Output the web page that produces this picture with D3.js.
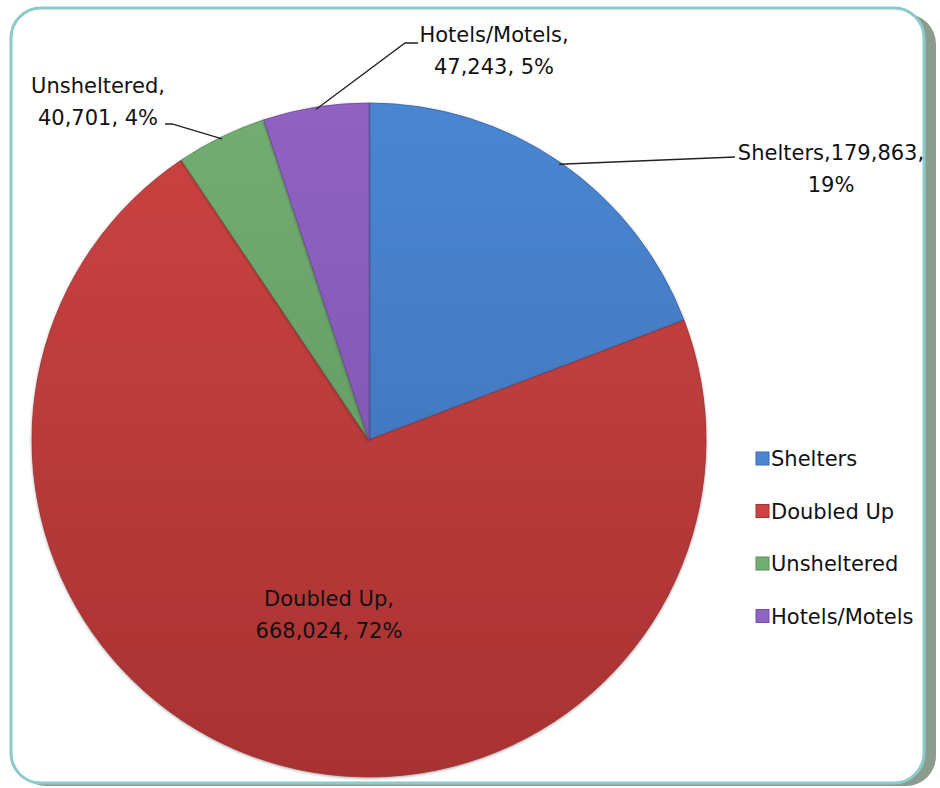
<!DOCTYPE html>
<html>
<head>
<meta charset="utf-8">
<script src="https://cdn.jsdelivr.net/npm/d3@7"></script>
<style>
  body { margin: 0; background: #fff; }
  text { font-family: "DejaVu Sans", sans-serif; fill: #111; }
</style>
</head>
<body>
<script>
const w = 940;
const h = 788;

// data
const categories = ["Shelters", "Doubled Up", "Unsheltered", "Hotels/Motels"];
const values = [179863, 668024, 40701, 47243];
const percents = ["19%", "72%", "4%", "5%"];
const colorsTop = ["#4a86d2", "#cc4343", "#72ad72", "#9062c2"];
const colorsBottom = ["#3b6cb0", "#a83232", "#5b925b", "#7650a8"];

const svg = d3
  .select("body")
  .append("svg")
  .attr("width", w)
  .attr("height", h);

const defs = svg.append("defs");

// frame shadow + frame
svg
  .append("rect")
  .attr("x", 16)
  .attr("y", 14)
  .attr("width", 920)
  .attr("height", 772)
  .attr("rx", 30)
  .attr("fill", "#8b9c8e");
svg
  .append("rect")
  .attr("x", 11)
  .attr("y", 8)
  .attr("width", 913)
  .attr("height", 775)
  .attr("rx", 30)
  .attr("fill", "#fff")
  .attr("stroke", "#8ccbcc")
  .attr("stroke-width", 3);

const cx = 369;
const cy = 440;
const r = 337;

categories.forEach((c, i) => {
  const g = defs
    .append("linearGradient")
    .attr("id", "grad" + i)
    .attr("gradientUnits", "userSpaceOnUse")
    .attr("x1", 0)
    .attr("y1", -r)
    .attr("x2", 0)
    .attr("y2", r);
  g.append("stop").attr("offset", "0%").attr("stop-color", colorsTop[i]);
  g.append("stop").attr("offset", "100%").attr("stop-color", colorsBottom[i]);
});

const bevel = defs.append("filter").attr("id", "bevel");
bevel
  .append("feDropShadow")
  .attr("dx", 0)
  .attr("dy", 1)
  .attr("stdDeviation", 1.5)
  .attr("flood-color", "#000")
  .attr("flood-opacity", 0.35);

const pie = d3.pie().sort(null).value((d) => d);
const arcs = pie(values);
const arc = d3.arc().innerRadius(0).outerRadius(r);

const chart = svg.append("g").attr("transform", `translate(${cx}, ${cy})`);

chart
  .selectAll("path")
  .data(arcs)
  .enter()
  .append("path")
  .attr("d", arc)
  .attr("fill", (d, i) => `url(#grad${i})`)
  .attr("stroke", (d, i) => d3.color(colorsBottom[i]).darker(0.3))
  .attr("stroke-width", 0.8)
  .attr("stroke-linejoin", "round")
  .attr("filter", "url(#bevel)");

// leader lines: start on the slice edge, end at its label
const edge = d3.arc().innerRadius(r - 2).outerRadius(r - 2);
const leaders = [
  { i: 0, pts: [[735, 157]] },
  { i: 3, pts: [[405, 43], [418, 43]] },
  { i: 2, pts: [[172, 124], [165, 124]] },
];
leaders.forEach((l) => {
  const a = arcs[l.i];
  const m = (a.startAngle + a.endAngle) / 2;
  const p = edge.centroid({ startAngle: m, endAngle: m });
  const start = [cx + p[0], cy + p[1]];
  svg
    .append("path")
    .attr("d", d3.line()([start, ...l.pts]))
    .attr("fill", "none")
    .attr("stroke", "#222")
    .attr("stroke-width", 1.3);
});

const fmt = d3.format(",");
const labels = [
  { x: 831, y: 160, lines: [categories[0] + "," + fmt(values[0]) + ",", percents[0]] },
  { x: 329, y: 606, lines: [categories[1] + ",", fmt(values[1]) + ", " + percents[1]] },
  { x: 98, y: 93, lines: [categories[2] + ",", fmt(values[2]) + ", " + percents[2]] },
  { x: 494, y: 42, lines: [categories[3] + ",", fmt(values[3]) + ", " + percents[3]] },
];
labels.forEach((lb) => {
  const t = svg
    .append("text")
    .attr("x", lb.x)
    .attr("y", lb.y)
    .attr("text-anchor", "middle")
    .style("font-size", "21px");
  t.selectAll("tspan")
    .data(lb.lines)
    .enter()
    .append("tspan")
    .attr("x", lb.x)
    .attr("dy", (d, j) => (j === 0 ? 0 : 32))
    .text((d) => d);
});

// legend
const legend = svg.append("g").attr("transform", "translate(756, 452)");
const item = legend
  .selectAll("g")
  .data(categories)
  .enter()
  .append("g")
  .attr("transform", (d, i) => `translate(0, ${i * 52.5})`);
item
  .append("rect")
  .attr("width", 13)
  .attr("height", 13)
  .attr("fill", (d, i) => colorsTop[i])
  .attr("stroke", (d, i) => colorsBottom[i])
  .attr("stroke-width", 1);
item
  .append("text")
  .attr("x", 15)
  .attr("y", 14)
  .style("font-size", "21px")
  .text((d) => d);
</script>
</body>
</html>
